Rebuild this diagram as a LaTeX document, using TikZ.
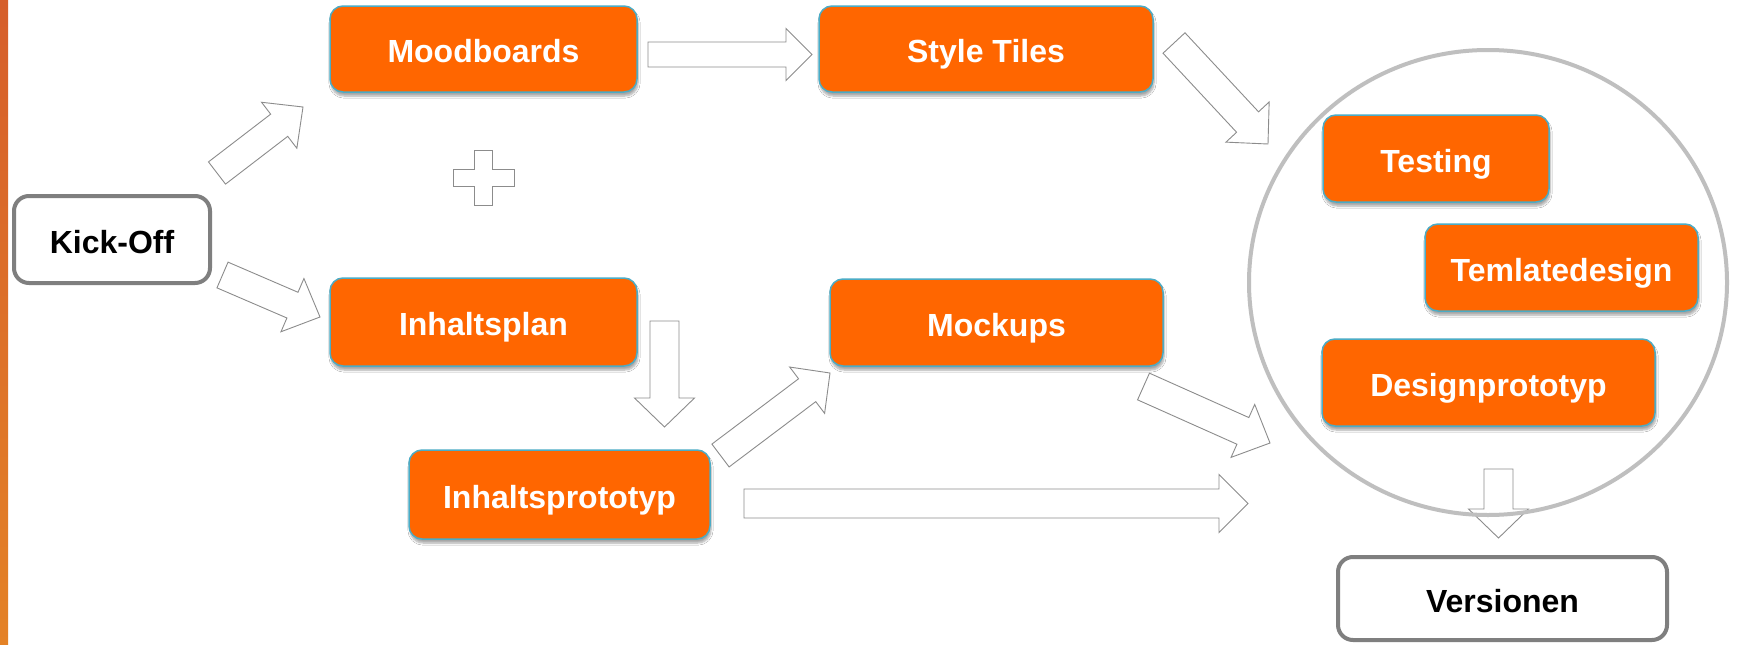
\documentclass[tikz,border=0pt]{standalone}
\usepackage{fontspec}
\setmainfont{Liberation Sans}
\usetikzlibrary{calc,shadows.blur}
\definecolor{boxorange}{RGB}{255,102,0}
\definecolor{boxblue}{RGB}{75,172,198}
\definecolor{arrgray}{RGB}{140,140,140}
\definecolor{kgray}{RGB}{127,127,127}
\definecolor{circgray}{RGB}{191,191,191}
\definecolor{stripetop}{RGB}{214,94,42}
\definecolor{stripebot}{RGB}{228,130,38}

\newcommand{\blockarr}[5]{%
  \coordinate (hb) at ($(#2)!#5!(#1)$);
  \draw[barrow] ($(#1)!#3!90:(#2)$) -- ($(hb)!#3!90:(#2)$) -- ($(hb)!#4!90:(#2)$) -- (#2)
    -- ($(hb)!#4!-90:(#2)$) -- ($(hb)!#3!-90:(#2)$) -- ($(#1)!#3!-90:(#2)$) -- cycle;}

\tikzset{
  labfont/.style={font=\fontsize{32}{38}\selectfont\bfseries, text height=27pt, text depth=0pt},
  obox/.style={labfont, draw=boxblue, line width=1.5pt, fill=boxorange, rounded corners=13pt,
    text=white, inner sep=0pt,
    blur shadow={shadow xshift=1pt, shadow yshift=-4pt, shadow blur steps=6, shadow opacity=35}},
  gbox/.style={labfont, draw=kgray, line width=4pt, fill=white, rounded corners=15pt,
    text=black, inner sep=0pt},
  barrow/.style={draw=arrgray, line width=0.9pt, fill=white, line join=miter},
}

\begin{document}
\begin{tikzpicture}[x=1pt,y=-1pt]
\useasboundingbox (0,0) rectangle (1738,645);
\fill[white] (0,0) rectangle (1738,645);
\shade[top color=stripetop, bottom color=stripebot] (0,0) rectangle (8,645);

% arrow end points
\coordinate (a1s) at (217,173);    \coordinate (a1e) at (303,107);
\coordinate (a2s) at (222.5,275);  \coordinate (a2e) at (320,317);
\coordinate (a3s) at (648,54.5);   \coordinate (a3e) at (812,54.5);
\coordinate (a4s) at (1174,43);    \coordinate (a4e) at (1268,144);
\coordinate (a5s) at (664.5,321);  \coordinate (a5e) at (664.5,427);
\coordinate (a6s) at (720.5,455.5);\coordinate (a6e) at (830,373);
\coordinate (a7s) at (1143.5,386.5);\coordinate (a7e) at (1270,443);
\coordinate (a8s) at (744,503.5);  \coordinate (a8e) at (1248,503.5);
\coordinate (a9s) at (1498.5,469); \coordinate (a9e) at (1498.5,538);

\blockarr{a1s}{a1e}{14pt}{29pt}{30pt}
\blockarr{a2s}{a2e}{14pt}{29pt}{30pt}
\blockarr{a3s}{a3e}{12.5pt}{26pt}{26pt}
\blockarr{a4s}{a4e}{15pt}{29.5pt}{30pt}
\blockarr{a5s}{a5e}{14.5pt}{30pt}{29pt}
\blockarr{a6s}{a6e}{14.3pt}{29pt}{28.6pt}
\blockarr{a7s}{a7e}{14.6pt}{29pt}{29.7pt}
\blockarr{a8s}{a8e}{14.5pt}{29pt}{29pt}
\blockarr{a9s}{a9e}{14.5pt}{30pt}{29pt}

% plus sign
\draw[barrow] (474,150) -- (492,150) -- (492,169) -- (514,169) -- (514,186) -- (492,186)
  -- (492,205) -- (474,205) -- (474,186) -- (453,186) -- (453,169) -- (474,169) -- cycle;

% circle
\draw[circgray, line width=4pt] (1488,282.5) ellipse [x radius=239, y radius=232.5];

% nodes
\node[gbox, minimum width=196, minimum height=87] (kick) at (112,239.5) {Kick-Off};
\node[obox, minimum width=307, minimum height=86] (mood) at (483.5,49) {Moodboards};
\node[obox, minimum width=334, minimum height=86] (style) at (986,49) {Style Tiles};
\node[obox, minimum width=307, minimum height=88] (iplan) at (483.5,322) {Inhaltsplan};
\node[obox, minimum width=301, minimum height=89] (iproto) at (559.5,494.5) {Inhaltsprototyp};
\node[obox, minimum width=333, minimum height=87] (mock) at (996.5,322.5) {Mockups};
\node[obox, minimum width=226, minimum height=87] (test) at (1436,158.5) {Testing};
\node[obox, minimum width=273, minimum height=87] (temp) at (1561.5,267.5) {Temlatedesign};
\node[obox, minimum width=333, minimum height=87] (dproto) at (1488.5,382.5) {Designprototyp};
\node[gbox, minimum width=329, minimum height=83] (vers) at (1502.5,598.5) {Versionen};
\end{tikzpicture}
\end{document}
